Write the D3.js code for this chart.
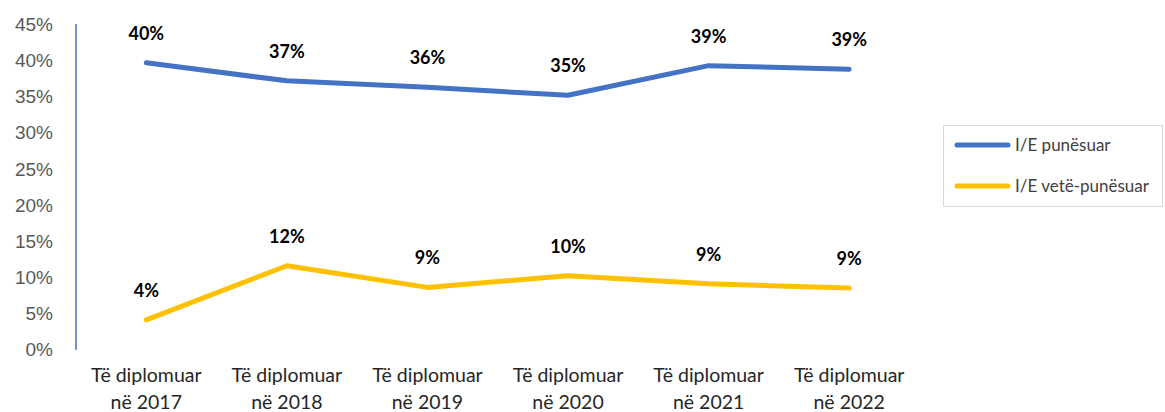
<!DOCTYPE html>
<html>
<head>
<meta charset="utf-8">
<script src="https://cdn.jsdelivr.net/npm/d3@7"></script>
<style>
	body { margin: 0; background: #fff; }
	svg { font-family: Lato, "Open Sans", sans-serif; }
</style>
</head>
<body>
<div id="chartDiv"></div>
<script>
// data
var categories = ["Të diplomuar në 2017", "Të diplomuar në 2018", "Të diplomuar në 2019",
	"Të diplomuar në 2020", "Të diplomuar në 2021", "Të diplomuar në 2022"];
var punesuar = [0.397, 0.372, 0.363, 0.352, 0.393, 0.388];
var vetePunesuar = [0.041, 0.116, 0.086, 0.102, 0.091, 0.085];
var seriesNames = ["I/E punësuar", "I/E vetë-punësuar"];
var seriesColors = ["#4472C4", "#FFC000"];
var yTicks = [0, 0.05, 0.10, 0.15, 0.20, 0.25, 0.30, 0.35, 0.40, 0.45];

var width = 1165, height = 412;
var margin = {top: 24.5, left: 76, right: 245.5, bottom: 62.5};

var svg = d3.select("#chartDiv").append("svg")
	.attr("width", width)
	.attr("height", height);

var x = d3.scaleBand()
	.domain(categories)
	.range([margin.left, width - margin.right]);

var y = d3.scaleLinear()
	.domain([0, 0.45])
	.range([height - margin.bottom, margin.top]);

// y axis: labels only, plus the blue axis line
var yAxis = svg.append("g")
	.attr("transform", "translate(" + margin.left + ",0)")
	.call(d3.axisLeft(y).tickValues(yTicks).tickFormat(d3.format(".0%")).tickSize(0).tickPadding(23));
yAxis.select(".domain").remove();
yAxis.selectAll("text")
	.attr("fill", "#595959")
	.style("font-size", "19px");

svg.append("line")
	.attr("x1", margin.left).attr("x2", margin.left)
	.attr("y1", y(0.45) - 0.5).attr("y2", y(0) + 0.5)
	.attr("stroke", "#4472C4")
	.attr("stroke-width", 1.5);

// category labels on two lines
var xLab = svg.append("g").selectAll("text")
	.data(categories)
	.enter().append("text")
	.attr("x", function(d) { return x(d) + x.bandwidth() / 2; })
	.attr("y", 382)
	.attr("text-anchor", "middle")
	.attr("fill", "#262626")
	.style("font-size", "19.5px");
xLab.append("tspan")
	.attr("x", function(d) { return x(d) + x.bandwidth() / 2; })
	.text(function(d) { return d.split(" në ")[0]; });
xLab.append("tspan")
	.attr("x", function(d) { return x(d) + x.bandwidth() / 2; })
	.attr("dy", 26.5)
	.text(function(d) { return "në " + d.split(" në ")[1]; });

var series = [punesuar, vetePunesuar];

var line = d3.line()
	.x(function(d, i) { return x(categories[i]) + x.bandwidth() / 2; })
	.y(function(d) { return y(d); });

series.forEach(function(vals, s) {
	svg.append("path")
		.datum(vals)
		.attr("d", line)
		.attr("fill", "none")
		.attr("stroke", seriesColors[s])
		.attr("stroke-width", 5)
		.attr("stroke-linecap", "round")
		.attr("stroke-linejoin", "round");

	svg.append("g").selectAll("text")
		.data(vals)
		.enter().append("text")
		.attr("x", function(d, i) { return x(categories[i]) + x.bandwidth() / 2; })
		.attr("y", function(d) { return y(d) - 23; })
		.attr("text-anchor", "middle")
		.attr("font-weight", "bold")
		.attr("fill", "#000")
		.style("font-size", "18px")
		.text(function(d) { return d3.format(".0%")(d); });
});

// legend
var legend = svg.append("g");
legend.append("rect")
	.attr("x", 943.5).attr("y", 125.5)
	.attr("width", 219).attr("height", 81)
	.attr("fill", "#fff")
	.attr("stroke", "#d9d9d9");
seriesNames.forEach(function(name, s) {
	var ly = 145 + s * 41;
	legend.append("line")
		.attr("x1", 957).attr("x2", 1008)
		.attr("y1", ly).attr("y2", ly)
		.attr("stroke", seriesColors[s])
		.attr("stroke-width", 5)
		.attr("stroke-linecap", "round");
	legend.append("text")
		.attr("x", 1015).attr("y", ly + 6)
		.attr("fill", "#404040")
		.style("font-size", "17px")
		.text(name);
});
</script>
</body>
</html>
